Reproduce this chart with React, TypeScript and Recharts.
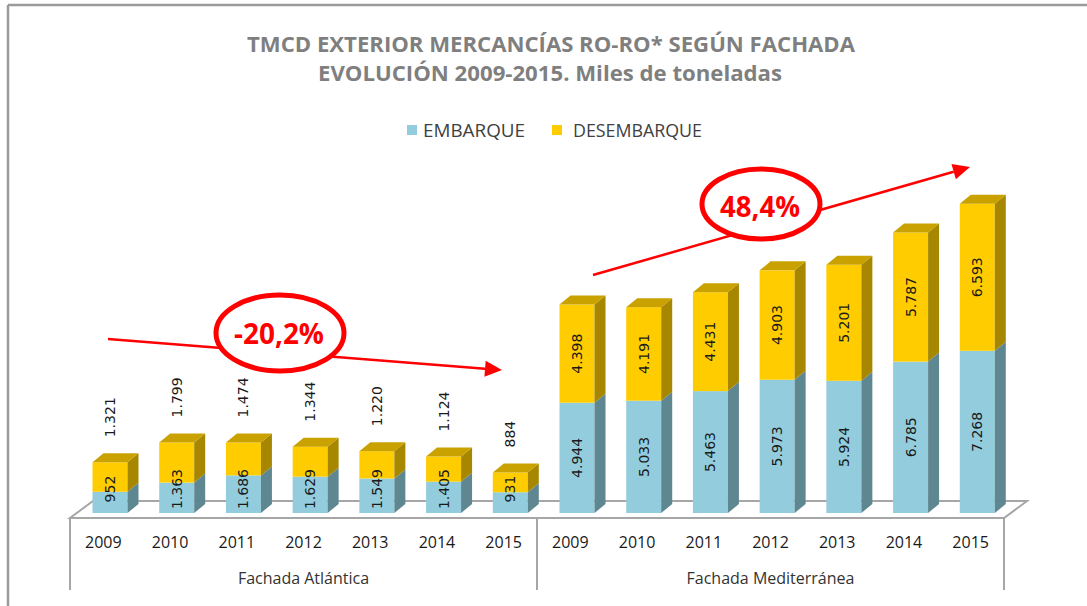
import React from 'react';
import { BarChart, Bar, XAxis, YAxis, LabelList } from 'recharts';

// ---------- DATA ----------
const years = ['2009', '2010', '2011', '2012', '2013', '2014', '2015'];
const groups = ['Fachada Atlántica', 'Fachada Mediterránea'];
const embarqueAtlantica = [952, 1363, 1686, 1629, 1549, 1405, 931];
const desembarqueAtlantica = [1321, 1799, 1474, 1344, 1220, 1124, 884];
const embarqueMediterranea = [4944, 5033, 5463, 5973, 5924, 6785, 7268];
const desembarqueMediterranea = [4398, 4191, 4431, 4903, 5201, 5787, 6593];
const seriesNames = ['EMBARQUE', 'DESEMBARQUE'];
const titleLines = ['TMCD EXTERIOR MERCANCÍAS RO-RO* SEGÚN FACHADA', 'EVOLUCIÓN 2009-2015. Miles de toneladas'];
const annotations = ['-20,2%', '48,4%'];

const data = [
  ...years.map((y, i) => ({ year: y, group: groups[0], emb: embarqueAtlantica[i], des: desembarqueAtlantica[i] })),
  ...years.map((y, i) => ({ year: y, group: groups[1], emb: embarqueMediterranea[i], des: desembarqueMediterranea[i] })),
];

// ---------- LAYOUT / STYLE ----------
const W = 1087;
const H = 606;
const PLOT_LEFT = 70;
const PLOT_RIGHT = 1004;
const PLOT_TOP = 156;
const PLOT_BOTTOM = 513;
const BAND = (PLOT_RIGHT - PLOT_LEFT) / data.length;
const DX = 11;
const DY = 9;
const SHIFT = 6.5;
const EMB_FRONT = '#93CDDD';
const EMB_SIDE = '#5F8791';
const DES_FRONT = '#FFCC00';
const DES_SIDE = '#A88700';
const DES_TOP = '#C9A200';
const GRID = '#A6A6A6';
const RED = '#FF0000';
const LABEL_FONT = '"DejaVu Sans", Verdana, sans-serif';
const TEXT_FONT = '"Open Sans", "Liberation Sans", sans-serif';

const fmt = (n: number) => String(n).replace(/\B(?=(\d{3})+(?!\d))/g, '.');

const Emb3D = (p: any) => {
  const { x, y, width: w, height: h } = p;
  if (h == null || isNaN(h)) return null;
  const fx = x + SHIFT;
  return (
    <g>
      <rect x={fx} y={y} width={w} height={h} fill={EMB_FRONT} />
      <polygon
        points={`${fx + w},${y} ${fx + w + DX},${y - DY} ${fx + w + DX},${y + h - DY} ${fx + w},${y + h}`}
        fill={EMB_SIDE}
      />
    </g>
  );
};

const Des3D = (p: any) => {
  const { x, y, width: w, height: h } = p;
  if (h == null || isNaN(h)) return null;
  const fx = x + SHIFT;
  return (
    <g>
      <rect x={fx} y={y} width={w} height={h} fill={DES_FRONT} />
      <polygon
        points={`${fx + w},${y} ${fx + w + DX},${y - DY} ${fx + w + DX},${y + h - DY} ${fx + w},${y + h}`}
        fill={DES_SIDE}
      />
      <polygon points={`${fx},${y} ${fx + DX},${y - DY} ${fx + w + DX},${y - DY} ${fx + w},${y}`} fill={DES_TOP} />
    </g>
  );
};

const getBox = (p: any) => {
  const vb = p.viewBox || {};
  const x = p.x ?? vb.x;
  const y = p.y ?? vb.y;
  const w = p.width ?? vb.width;
  const h = p.height ?? vb.height;
  return { x, y, w, h };
};

const EmbLabel = (p: any) => {
  const { x, y, w, h } = getBox(p);
  if (x == null) return null;
  const cx = x + SHIFT + w / 2;
  const cy = Math.min(y + h / 2, y + h - 24);
  return (
    <text
      x={cx}
      y={cy}
      transform={`rotate(-90, ${cx}, ${cy})`}
      textAnchor="middle"
      dominantBaseline="central"
      fontFamily={LABEL_FONT}
      fontSize={14}
      fill="#1a1a1a"
    >
      {fmt(p.value)}
    </text>
  );
};

const DesLabel = (p: any) => {
  const { x, y, w, h } = getBox(p);
  if (x == null) return null;
  const cx = x + SHIFT + w / 2;
  const outside = p.index < years.length;
  const cy = outside ? y - 25 : y + h / 2;
  return (
    <text
      x={cx}
      y={cy}
      transform={`rotate(-90, ${cx}, ${cy})`}
      textAnchor={outside ? 'start' : 'middle'}
      dominantBaseline="central"
      fontFamily={LABEL_FONT}
      fontSize={14}
      fill="#1a1a1a"
    >
      {fmt(p.value)}
    </text>
  );
};

const XTick = (p: any) => {
  const { x, index } = p;
  const i = index ?? 0;
  const groupIdx = i === 3 ? 0 : i === 10 ? 1 : -1;
  return (
    <g>
      <text x={x} y={542} textAnchor="middle" dominantBaseline="central" fontFamily={TEXT_FONT} fontSize={16} fill="#1a1a1a">
        {data[i] ? data[i].year : p.payload?.value}
      </text>
      {groupIdx >= 0 && (
        <text
          x={PLOT_LEFT + (groupIdx * 7 + 3.5) * BAND}
          y={578}
          textAnchor="middle"
          dominantBaseline="central"
          fontFamily={TEXT_FONT}
          fontSize={16}
          fill="#333"
        >
          {groups[groupIdx]}
        </text>
      )}
    </g>
  );
};

const arrow = (x1: number, y1: number, x2: number, y2: number) => {
  const dx = x2 - x1;
  const dy = y2 - y1;
  const len = Math.sqrt(dx * dx + dy * dy);
  const ux = dx / len;
  const uy = dy / len;
  const hl = 17;
  const hw = 8;
  const bx = x2 - hl * ux;
  const by = y2 - hl * uy;
  const nx = -uy;
  const ny = ux;
  return (
    <g>
      <line x1={x1} y1={y1} x2={bx} y2={by} stroke={RED} strokeWidth={2.5} />
      <polygon points={`${x2},${y2} ${bx + hw * nx},${by + hw * ny} ${bx - hw * nx},${by - hw * ny}`} fill={RED} />
    </g>
  );
};

const Background = () => (
  <svg width={W} height={H} style={{ position: 'absolute', left: 0, top: 0 }}>
    <rect x={0} y={0} width={W} height={H} fill="#ffffff" />
    <line x1={8} y1={5} x2={W} y2={5} stroke="#9A9A9A" strokeWidth={2.5} />
    <line x1={8} y1={5} x2={8} y2={H} stroke="#9A9A9A" strokeWidth={2.5} />
    {/* title */}
    <text x={551} y={52} textAnchor="middle" fontFamily={TEXT_FONT} fontWeight="bold" fontSize={22} fill="#7F7F7F" textLength={608} lengthAdjust="spacingAndGlyphs">
      {titleLines[0]}
    </text>
    <text x={550} y={81} textAnchor="middle" fontFamily={TEXT_FONT} fontWeight="bold" fontSize={22} fill="#7F7F7F" textLength={464} lengthAdjust="spacingAndGlyphs">
      {titleLines[1]}
    </text>
    {/* legend */}
    <rect x={407} y={125} width={10} height={10} fill={EMB_FRONT} />
    <text x={423} y={137} fontFamily={TEXT_FONT} fontSize={18} fill="#404040" textLength={102} lengthAdjust="spacingAndGlyphs">
      {seriesNames[0]}
    </text>
    <rect x={552} y={125} width={10} height={10} fill={DES_FRONT} />
    <text x={573} y={137} fontFamily={TEXT_FONT} fontSize={18} fill="#404040" textLength={129} lengthAdjust="spacingAndGlyphs">
      {seriesNames[1]}
    </text>
    {/* 3D floor */}
    <polygon
      points={`${PLOT_LEFT},518 ${PLOT_RIGHT},518 ${PLOT_RIGHT + 23},501 ${PLOT_LEFT + 23},501`}
      fill="none"
      stroke={GRID}
      strokeWidth={2}
    />
    <line x1={PLOT_LEFT} y1={518} x2={PLOT_LEFT} y2={590} stroke={GRID} strokeWidth={2} />
    <line x1={PLOT_LEFT + 7 * BAND} y1={518} x2={PLOT_LEFT + 7 * BAND} y2={590} stroke={GRID} strokeWidth={2} />
    <line x1={PLOT_RIGHT} y1={518} x2={PLOT_RIGHT} y2={590} stroke={GRID} strokeWidth={2} />
  </svg>
);

const Overlay = () => (
  <svg width={W} height={H} style={{ position: 'absolute', left: 0, top: 0, pointerEvents: 'none' }}>
    {arrow(108, 339, 502, 370)}
    <ellipse cx={280} cy={333} rx={64} ry={38} fill="#ffffff" stroke={RED} strokeWidth={5} />
    <text x={279} y={344} textAnchor="middle" fontFamily={TEXT_FONT} fontWeight="bold" fontSize={28} fill={RED} textLength={90} lengthAdjust="spacingAndGlyphs">
      {annotations[0]}
    </text>
    {arrow(593, 275, 970, 167)}
    <ellipse cx={761} cy={204} rx={59} ry={35} fill="#ffffff" stroke={RED} strokeWidth={5} />
    <text x={760} y={217} textAnchor="middle" fontFamily={TEXT_FONT} fontWeight="bold" fontSize={28} fill={RED} textLength={80} lengthAdjust="spacingAndGlyphs">
      {annotations[1]}
    </text>
  </svg>
);

export default function App() {
  return (
    <div style={{ position: 'absolute', left: 0, top: 0, width: W, height: H, background: '#fff' }}>
      <Background />
      <div style={{ position: 'absolute', left: 0, top: 0 }}>
        <BarChart
          width={W}
          height={H}
          data={data}
          margin={{ top: PLOT_TOP, right: W - PLOT_RIGHT, bottom: 0, left: PLOT_LEFT }}
          barSize={35}
        >
          <XAxis
            dataKey="year"
            height={H - PLOT_BOTTOM}
            axisLine={false}
            tickLine={false}
            interval={0}
            tick={<XTick />}
          />
          <YAxis hide domain={[0, 16000]} />
          <Bar dataKey="emb" stackId="a" name={seriesNames[0]} fill={EMB_FRONT} shape={<Emb3D />} isAnimationActive={false}>
            <LabelList dataKey="emb" content={<EmbLabel />} />
          </Bar>
          <Bar dataKey="des" stackId="a" name={seriesNames[1]} fill={DES_FRONT} shape={<Des3D />} isAnimationActive={false}>
            <LabelList dataKey="des" content={<DesLabel />} />
          </Bar>
        </BarChart>
      </div>
      <Overlay />
    </div>
  );
}
